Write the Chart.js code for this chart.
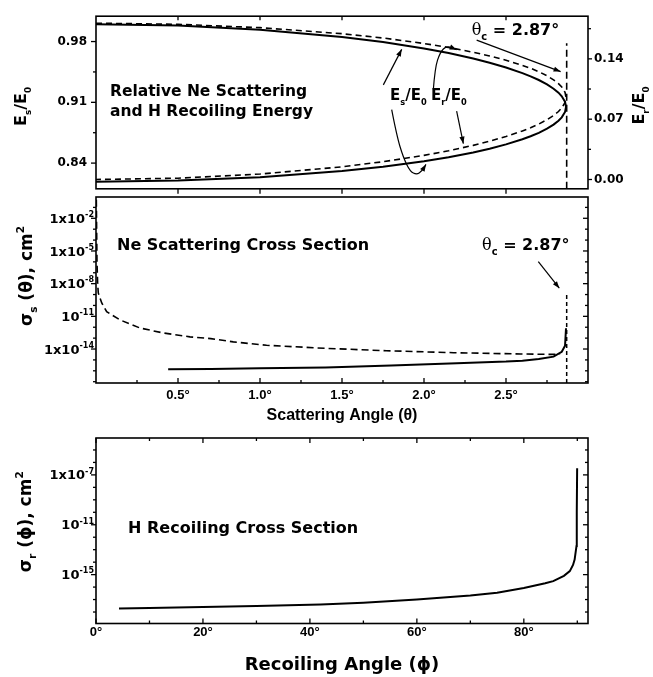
<!DOCTYPE html>
<html>
<head>
<meta charset="utf-8">
<script src="https://cdn.jsdelivr.net/npm/chart.js@4.4.0/dist/chart.umd.min.js"></script>
<style>
  html, body { margin: 0; padding: 0; background: #fff; }
  #wrap { position: relative; width: 653px; height: 677px; overflow: hidden; }
  canvas { position: absolute; left: 0; }
</style>
</head>
<body>
<div id="wrap">
  <canvas id="energyChart" width="653" height="205" style="top:0px"></canvas>
  <canvas id="scatterChart" width="653" height="245" style="top:190px"></canvas>
  <canvas id="recoilChart" width="653" height="246" style="top:431px"></canvas>
</div>
<script>
// Relative energies vs scattering angle (two kinematic branches)
const thetaE = [0, 0.5, 1.0, 1.5, 1.75, 2.0, 2.15, 2.3, 2.4, 2.5, 2.6, 2.65, 2.7, 2.75, 2.79, 2.82, 2.84, 2.86, 2.866];
const esUpper = [1.000, 0.9985, 0.9937, 0.9853, 0.9794, 0.9720, 0.9667, 0.9604, 0.9556, 0.9501, 0.9437, 0.9399, 0.9357, 0.9306, 0.9257, 0.9211, 0.9170, 0.9106, 0.9048];
const esLower = [0.8186, 0.8199, 0.8238, 0.8308, 0.8358, 0.8422, 0.8468, 0.8523, 0.8566, 0.8616, 0.8675, 0.8709, 0.8749, 0.8796, 0.8843, 0.8888, 0.8927, 0.8989, 0.9048];
const erUpper = [0.1814, 0.1801, 0.1762, 0.1692, 0.1642, 0.1578, 0.1532, 0.1477, 0.1434, 0.1384, 0.1325, 0.1291, 0.1251, 0.1204, 0.1157, 0.1112, 0.1073, 0.1011, 0.0952];
const erLower = [0.0000, 0.0015, 0.0063, 0.0147, 0.0206, 0.0280, 0.0333, 0.0396, 0.0444, 0.0499, 0.0563, 0.0601, 0.0643, 0.0694, 0.0743, 0.0789, 0.0830, 0.0894, 0.0952];
const thetaC = 2.87;
const cutoffTopEs = 0.978;

// Ne scattering cross section (solid) and dashed curve
const thetaSolid = [0.44, 0.7, 1.0, 1.4, 1.8, 2.2, 2.5, 2.6, 2.7, 2.79, 2.84, 2.86, 2.866];
const sigmaSolid = [1.4e-16, 1.5e-16, 1.7e-16, 2.0e-16, 3.0e-16, 5.0e-16, 7.0e-16, 8.5e-16, 1.2e-15, 2.0e-15, 5.6e-15, 2.0e-14, 8e-13];
const thetaDash = [0.002, 0.006, 0.01, 0.014, 0.035, 0.065, 0.146, 0.268, 0.409, 0.573, 0.7, 0.837, 1.04, 1.4, 1.77, 2.18, 2.59, 2.79, 2.83];
const sigmaDash = [0.5, 1e-6, 1e-8, 1.4e-9, 1.7e-10, 2.7e-11, 4.7e-12, 8.5e-13, 3e-13, 1.3e-13, 9e-14, 4.5e-14, 2.2e-14, 1.15e-14, 7e-15, 4.6e-15, 3.5e-15, 3.2e-15, 3.6e-15];
const cutoffTopSigma = 9e-10;

// H recoiling cross section
const phiR = [4.3, 10, 20, 30, 42, 50, 60, 70, 75, 80, 84, 85.5, 87.5, 88.6, 89.2, 89.5, 89.85, 89.9, 89.97];
const sigmaR = [1.9e-18, 2.1e-18, 2.5e-18, 3.0e-18, 4.0e-18, 5.5e-18, 1.0e-17, 2.1e-17, 3.5e-17, 8.5e-17, 2.0e-16, 3.0e-16, 8e-16, 1.9e-15, 6e-15, 1.6e-14, 2e-13, 1e-10, 3.4e-7];

// Axis ranges and ticks
const esRange = [0.8104, 1.0092];
const erRange = [-0.0108, 0.1895];
const thetaRange = [0, 3];
const phiRange = [0, 92];
const sigmaSRange = [7.6e-18, 0.9];
const sigmaRRange = [1.2e-19, 9.1e-5];

const esTicks = [0.84, 0.91, 0.98];
const esMinor = [0.875, 0.945];
const erTicks = [0.00, 0.07, 0.14];
const erMinor = [0.035, 0.105, 0.175];
const thetaTicks = [0.5, 1.0, 1.5, 2.0, 2.5];
const thetaMinor = [0.25, 0.75, 1.25, 1.75, 2.25, 2.75];
const sigmaSTicks = [1e-2, 1e-5, 1e-8, 1e-11, 1e-14];
const sigmaSLabels = [["1x10", "-2"], ["1x10", "-5"], ["1x10", "-8"], ["10", "-11"], ["1x10", "-14"]];
const sigmaSDecades = [1e-1, 1e-3, 1e-4, 1e-6, 1e-7, 1e-9, 1e-10, 1e-12, 1e-13, 1e-15, 1e-16, 1e-17];
const phiTicks = [0, 20, 40, 60, 80];
const phiMinor = [10, 30, 50, 70, 90];
const sigmaRTicks = [1e-7, 1e-11, 1e-15];
const sigmaRLabels = [["1x10", "-7"], ["10", "-11"], ["10", "-15"]];
const sigmaRDecades = [1e-5, 1e-6, 1e-8, 1e-9, 1e-10, 1e-12, 1e-13, 1e-14, 1e-16, 1e-17, 1e-18];

const FONT = "DejaVu Sans";
const ARIAL = "Liberation Sans";
Chart.defaults.font.family = FONT;
Chart.defaults.color = "#000";

// Text with subscripts / superscripts: parts = [text, kind, weight, family]
function drawRich(ctx, parts, x, y, size, align, ratio = 0.62) {
  let total = 0;
  const items = parts.map(p => {
    const s = p[1] ? size * ratio : size;
    const font = `${p[2] || "bold"} ${s}px ${p[3] || FONT}`;
    ctx.font = font;
    const w = ctx.measureText(p[0]).width;
    total += w;
    const dy = p[1] === 1 ? size * 0.3 : p[1] === 2 ? -size * 0.45 : 0;
    return { t: p[0], font, w, dy };
  });
  let cx = align === "center" ? x - total / 2 : align === "right" ? x - total : x;
  ctx.textBaseline = "alphabetic";
  ctx.textAlign = "left";
  items.forEach(it => {
    ctx.font = it.font;
    ctx.fillText(it.t, cx, y + it.dy);
    cx += it.w;
  });
}

// Line through points with an arrow head at the end
function drawArrow(ctx, pts) {
  ctx.beginPath();
  ctx.moveTo(pts[0][0], pts[0][1]);
  for (let i = 1; i < pts.length - 1; i++) {
    const mx = (pts[i][0] + pts[i + 1][0]) / 2;
    const my = (pts[i][1] + pts[i + 1][1]) / 2;
    ctx.quadraticCurveTo(pts[i][0], pts[i][1], mx, my);
  }
  const [x2, y2] = pts[pts.length - 1];
  const [x1, y1] = pts[pts.length - 2];
  ctx.lineTo(x2, y2);
  ctx.stroke();
  const a = Math.atan2(y2 - y1, x2 - x1);
  const L = 7, W = 2.6;
  ctx.beginPath();
  ctx.moveTo(x2, y2);
  ctx.lineTo(x2 - L * Math.cos(a) + W * Math.sin(a), y2 - L * Math.sin(a) - W * Math.cos(a));
  ctx.lineTo(x2 - L * Math.cos(a) - W * Math.sin(a), y2 - L * Math.sin(a) + W * Math.cos(a));
  ctx.closePath();
  ctx.fill();
}

// Frame, tick marks, rich labels and annotations
function makeDecor(spec) {
  return {
    id: "decor",
    afterDraw(chart) {
      const ctx = chart.ctx;
      const area = chart.chartArea;
      ctx.save();
      ctx.strokeStyle = "#000";
      ctx.fillStyle = "#000";
      ctx.lineWidth = 1.6;
      ctx.strokeRect(area.left, area.top, area.right - area.left, area.bottom - area.top);

      ctx.lineWidth = 1.3;
      spec.ticks.forEach(t => {
        const scale = chart.scales[t.scale];
        const sign = t.out ? -1 : 1;
        t.vals.forEach(v => {
          if (v < scale.min || v > scale.max) return;
          const p = scale.getPixelForValue(v);
          ctx.beginPath();
          if (t.side === "left") { ctx.moveTo(area.left, p); ctx.lineTo(area.left + sign * t.len, p); }
          else if (t.side === "right") { ctx.moveTo(area.right, p); ctx.lineTo(area.right - sign * t.len, p); }
          else if (t.side === "top") { ctx.moveTo(p, area.top); ctx.lineTo(p, area.top + sign * t.len); }
          else { ctx.moveTo(p, area.bottom); ctx.lineTo(p, area.bottom - sign * t.len); }
          ctx.stroke();
        });
      });

      if (spec.logLabels) {
        const s = chart.scales.y;
        spec.logLabels.vals.forEach((v, i) => {
          const p = s.getPixelForValue(v);
          const lab = spec.logLabels.parts[i];
          drawRich(ctx, [[lab[0], 0], [lab[1], 2]], area.left - 2, p + 4.6, 13, "right");
        });
      }

      (spec.titles || []).forEach(t => {
        ctx.save();
        const x = t.side === "right" ? area.right + t.dx : area.left + t.dx;
        const y = (area.top + area.bottom) / 2 + t.dy;
        ctx.translate(x, y);
        ctx.rotate(-Math.PI / 2);
        drawRich(ctx, t.parts, 0, t.size * 0.36, t.size, "center", t.ratio);
        ctx.restore();
      });

      const xs = chart.scales.x;
      (spec.texts || []).forEach(t => {
        const ys = chart.scales[t.scale || "y"];
        drawRich(ctx, t.parts, xs.getPixelForValue(t.x), ys.getPixelForValue(t.y), t.size, "left", t.ratio);
      });

      ctx.lineWidth = 1.2;
      (spec.arrows || []).forEach(a => {
        const ys = chart.scales[a.scale || "y"];
        drawArrow(ctx, a.pts.map(p => [xs.getPixelForValue(p[0]), ys.getPixelForValue(p[1])]));
      });
      ctx.restore();
    },
  };
}

function fixedTicks(vals) {
  return scale => { scale.ticks = vals.map(v => ({ value: v })); };
}

const yTickFont = { size: 12, weight: "bold", family: FONT };
const xTickFont = { size: 13, weight: "bold", family: ARIAL };
const noGrid = { display: false, drawTicks: false };
const thetaCParts = [["θ", 0, "normal", "DejaVu Serif"], ["c", 1], [" = 2.87°", 0]];
const esParts = [["E", 0], ["s", 1], ["/E", 0], ["0", 1]];
const erParts = [["E", 0], ["r", 1], ["/E", 0], ["0", 1]];

function baseOptions(padding) {
  return {
    responsive: false,
    devicePixelRatio: 1,
    animation: false,
    layout: { padding },
    plugins: { legend: { display: false }, tooltip: { enabled: false } },
    elements: { point: { radius: 0 }, line: { tension: 0 } },
  };
}

function line(data, yAxisID, dash, width) {
  return {
    data,
    yAxisID,
    showLine: true,
    borderColor: "#000",
    borderWidth: width,
    borderDash: dash,
    pointRadius: 0,
    fill: false,
  };
}

// Top panel: energies
const esCurve = thetaE.map((t, i) => ({ x: t, y: esUpper[i] }))
  .concat(thetaE.map((t, i) => ({ x: t, y: esLower[i] })).reverse());
const erCurve = thetaE.map((t, i) => ({ x: t, y: erUpper[i] }))
  .concat(thetaE.map((t, i) => ({ x: t, y: erLower[i] })).reverse());

const energyOptions = baseOptions({ top: 11, left: 0, right: 0, bottom: 0 });
energyOptions.scales = {
  x: {
    type: "linear", min: thetaRange[0], max: thetaRange[1],
    grid: noGrid, border: { display: false },
    ticks: { display: false },
    afterFit: s => { s.height = 8; },
  },
  y: {
    type: "linear", position: "left", min: esRange[0], max: esRange[1],
    grid: noGrid, border: { display: false },
    afterBuildTicks: fixedTicks(esTicks),
    ticks: { font: yTickFont, padding: 9, callback: v => v.toFixed(2) },
    afterFit: s => { s.width = 96; },
  },
  y2: {
    type: "linear", position: "right", min: erRange[0], max: erRange[1],
    grid: noGrid, border: { display: false },
    afterBuildTicks: fixedTicks(erTicks),
    ticks: { font: yTickFont, padding: 6, callback: v => v.toFixed(2) },
    afterFit: s => { s.width = 65; },
  },
};

new Chart(document.getElementById("energyChart"), {
  type: "scatter",
  data: {
    datasets: [
      line(esCurve, "y", [], 2),
      line(erCurve, "y2", [6, 4], 1.6),
      line([{ x: thetaC, y: esRange[0] }, { x: thetaC, y: cutoffTopEs }], "y", [7, 4], 1.6),
    ],
  },
  options: energyOptions,
  plugins: [makeDecor({
    ticks: [
      { scale: "y", side: "left", vals: esTicks, len: 5, out: true },
      { scale: "y", side: "left", vals: esMinor, len: 3, out: true },
      { scale: "y2", side: "right", vals: erTicks, len: 4, out: true },
      { scale: "y2", side: "right", vals: erMinor, len: 3, out: true },
      { scale: "x", side: "bottom", vals: thetaTicks, len: 5, out: true },
      { scale: "x", side: "top", vals: thetaTicks, len: 4, out: false },
    ],
    titles: [
      { side: "left", dx: -76, dy: 4, size: 16, ratio: 0.55, parts: esParts },
      { side: "right", dx: 50, dy: 3, size: 16, ratio: 0.55, parts: erParts },
    ],
    texts: [
      { x: 0.085, y: 0.9176, size: 15.5, parts: [["Relative Ne Scattering", 0]] },
      { x: 0.085, y: 0.8945, size: 15.5, parts: [["and H Recoiling Energy", 0]] },
      { x: 1.793, y: 0.9122, size: 15, ratio: 0.55, parts: esParts },
      { x: 2.043, y: 0.9122, size: 15, ratio: 0.55, parts: erParts },
      { x: 2.291, y: 0.9871, size: 16, parts: thetaCParts },
    ],
    arrows: [
      { pts: [[1.752, 0.9301], [1.864, 0.9710]] },
      { pts: [[1.803, 0.9016], [1.834, 0.8713], [1.874, 0.8464], [1.915, 0.8304], [1.955, 0.8267], [1.986, 0.8304], [2.012, 0.8385]] },
      { pts: [[2.057, 0.9247], [2.067, 0.9496], [2.098, 0.9675], [2.138, 0.9753], [2.199, 0.9707]] },
      { pts: [[2.199, 0.8998], [2.240, 0.8624]] },
      { pts: [[2.321, 0.9817], [2.833, 0.9454]] },
    ],
  })],
});

// Middle panel: scattering cross section
const scatterOptions = baseOptions({ top: 7, left: 0, right: 65, bottom: 0 });
scatterOptions.scales = {
  x: {
    type: "linear", min: thetaRange[0], max: thetaRange[1],
    grid: noGrid, border: { display: false },
    afterBuildTicks: fixedTicks(thetaTicks),
    ticks: { font: xTickFont, padding: 5, callback: v => v.toFixed(1) + "°" },
    title: { display: true, text: "Scattering Angle (θ)", font: { size: 16, weight: "bold", family: ARIAL }, padding: { top: 0, bottom: 10 } },
    afterFit: s => { s.height = 52; },
  },
  y: {
    type: "logarithmic", min: sigmaSRange[0], max: sigmaSRange[1],
    grid: noGrid, border: { display: false },
    afterBuildTicks: fixedTicks(sigmaSTicks),
    ticks: { display: false },
    afterFit: s => { s.width = 96; },
  },
};

new Chart(document.getElementById("scatterChart"), {
  type: "scatter",
  data: {
    datasets: [
      line(thetaSolid.map((t, i) => ({ x: t, y: sigmaSolid[i] })), "y", [], 2),
      line(thetaDash.map((t, i) => ({ x: t, y: sigmaDash[i] })), "y", [7, 4], 1.6),
      line([{ x: thetaC, y: sigmaSRange[0] }, { x: thetaC, y: cutoffTopSigma }], "y", [4, 3], 1.5),
    ],
  },
  options: scatterOptions,
  plugins: [makeDecor({
    ticks: [
      { scale: "y", side: "left", vals: sigmaSTicks, len: 5, out: true },
      { scale: "y", side: "left", vals: sigmaSDecades, len: 3, out: true },
      { scale: "y", side: "right", vals: sigmaSTicks, len: 5, out: false },
      { scale: "y", side: "right", vals: sigmaSDecades, len: 3, out: false },
      { scale: "x", side: "bottom", vals: thetaTicks, len: 5, out: false },
      { scale: "x", side: "bottom", vals: thetaMinor, len: 3, out: false },
    ],
    logLabels: { vals: sigmaSTicks, parts: sigmaSLabels },
    titles: [
      { side: "left", dx: -70, dy: -14, size: 17, parts: [["σ", 0], ["s", 1], [" (θ), cm", 0], ["2", 2]] },
    ],
    texts: [
      { x: 0.128, y: 1.2e-5, size: 16, parts: [["Ne Scattering Cross Section", 0]] },
      { x: 2.354, y: 1.2e-5, size: 16, parts: thetaCParts },
    ],
    arrows: [
      { pts: [[2.697, 1.05e-6], [2.825, 3.8e-9]] },
    ],
  })],
});

// Bottom panel: recoiling cross section
const recoilOptions = baseOptions({ top: 7, left: 0, right: 65, bottom: 0 });
recoilOptions.scales = {
  x: {
    type: "linear", min: phiRange[0], max: phiRange[1],
    grid: noGrid, border: { display: false },
    afterBuildTicks: fixedTicks(phiTicks),
    ticks: { font: xTickFont, padding: 1, callback: v => v + "°" },
    title: { display: true, text: "Recoiling Angle (ϕ)", font: { size: 18, weight: "bold", family: FONT }, padding: { top: 0, bottom: 1 } },
    afterFit: s => { s.height = 53.5; },
  },
  y: {
    type: "logarithmic", min: sigmaRRange[0], max: sigmaRRange[1],
    grid: noGrid, border: { display: false },
    afterBuildTicks: fixedTicks(sigmaRTicks),
    ticks: { display: false },
    afterFit: s => { s.width = 96; },
  },
};

new Chart(document.getElementById("recoilChart"), {
  type: "scatter",
  data: {
    datasets: [
      line(phiR.map((p, i) => ({ x: p, y: sigmaR[i] })), "y", [], 2),
    ],
  },
  options: recoilOptions,
  plugins: [makeDecor({
    ticks: [
      { scale: "y", side: "left", vals: sigmaRTicks, len: 5, out: true },
      { scale: "y", side: "left", vals: sigmaRDecades, len: 3, out: true },
      { scale: "y", side: "right", vals: sigmaRTicks, len: 5, out: false },
      { scale: "y", side: "right", vals: sigmaRDecades, len: 3, out: false },
      { scale: "x", side: "bottom", vals: phiTicks, len: 5, out: false },
      { scale: "x", side: "bottom", vals: phiMinor, len: 3, out: false },
      { scale: "x", side: "top", vals: phiTicks, len: 5, out: false },
      { scale: "x", side: "top", vals: phiMinor, len: 3, out: false },
    ],
    logLabels: { vals: sigmaRTicks, parts: sigmaRLabels },
    titles: [
      { side: "left", dx: -71, dy: -9, size: 17, parts: [["σ", 0], ["r", 1], [" (ϕ), cm", 0], ["2", 2]] },
    ],
    texts: [
      { x: 6.0, y: 2.3e-12, size: 16, parts: [["H Recoiling Cross Section", 0]] },
    ],
  })],
});
</script>
</body>
</html>
